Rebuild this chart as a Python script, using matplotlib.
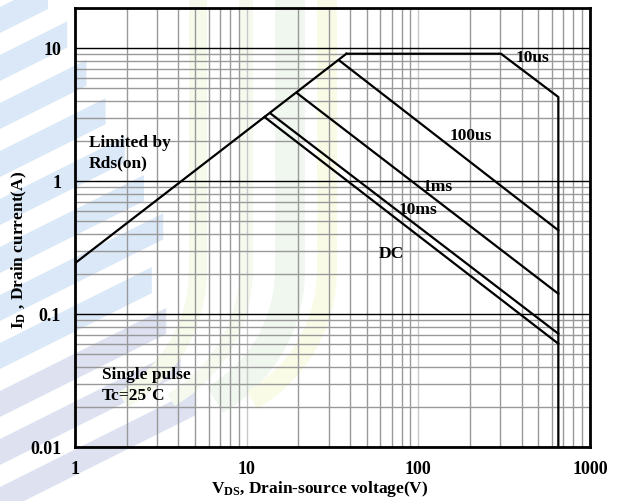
import numpy as np
import matplotlib.pyplot as plt
from matplotlib.ticker import LogLocator, NullFormatter, FixedLocator, FixedFormatter
from matplotlib.patches import Polygon

plt.rcParams['font.family'] = ['Liberation Serif', 'DejaVu Serif']
plt.rcParams['font.weight'] = 'bold'
plt.rcParams['axes.labelweight'] = 'bold'
plt.rcParams['mathtext.default'] = 'regular'

# ----------- safe operating area boundaries (V, A) ---------
rds_v = [1, 38.1]
rds_i = [0.241, 9.06]

us10_v = [38.1, 303, 654, 654]
us10_i = [9.06, 9.06, 4.28, 0.01]

us100_v = [34.6, 654]
us100_i = [8.07, 0.426]

ms1_v = [19.6, 654]
ms1_i = [4.59, 0.142]

ms10_v = [13.9, 654]
ms10_i = [3.19, 0.0711]

dc_v = [12.7, 654]
dc_i = [3.03, 0.0598]

# curve labels: text, V, I
curve_labels = ['10us', '100us', '1ms', '10ms', 'DC']
label_v = [463, 203, 129, 99, 70]
label_i = [8.4, 2.19, 0.895, 0.603, 0.282]

x_ticks = [1, 10, 100, 1000]
x_ticklabels = ['1', '10', '100', '1000']
y_ticks = [0.01, 0.1, 1, 10]
y_ticklabels = ['0.01', '0.1', '1', '10']

W, H = 622, 501
fig = plt.figure(figsize=(W / 100, H / 100), dpi=100)

# ----------- faint watermark behind the chart ---------
bg = fig.add_axes([0, 0, 1, 1], zorder=0)
bg.set_xlim(0, W)
bg.set_ylim(H, 0)
bg.axis('off')
for k in range(11):
    y0 = 20 + 48 * k
    xe = 40 + 0.4 * y0 if y0 < 330 else 120 + 0.3 * (y0 - 250)
    t = 26
    col = '#dbe8f8' if y0 < 380 else '#dde1f0'
    bg.add_patch(Polygon([(0, y0 - t / 2), (xe, y0 - t / 2 - 0.5 * xe),
                          (xe, y0 + t / 2 - 0.5 * xe), (0, y0 + t / 2)],
                         closed=True, color=col, lw=0))
for xc, w, col in [(198, 18, '#f6faea'), (246, 14, '#f6faee'),
                   (290, 30, '#eff7ee'), (327, 20, '#fafbe6')]:
    th = np.linspace(0, np.pi / 3, 30)
    r = 150
    xs = np.concatenate([[xc, xc], xc - r + r * np.cos(th)])
    ys = np.concatenate([[0, 270], 270 + r * np.sin(th)])
    bg.plot(xs, ys, color=col, lw=w * 0.72, solid_capstyle='butt')

# ----------- main chart ---------
ax = fig.add_axes([75 / W, 1 - 447 / H, (590 - 75) / W, (447 - 8) / H], zorder=1)
ax.set_facecolor('none')
ax.set_xscale('log')
ax.set_yscale('log')
ax.set_xlim(1, 1000)
ax.set_ylim(0.01, 20)

ax.xaxis.set_major_locator(FixedLocator(x_ticks))
ax.xaxis.set_major_formatter(FixedFormatter(x_ticklabels))
ax.yaxis.set_major_locator(FixedLocator(y_ticks))
ax.yaxis.set_major_formatter(FixedFormatter(y_ticklabels))
ax.xaxis.set_minor_locator(LogLocator(base=10, subs=np.arange(2, 10)))
ax.yaxis.set_minor_locator(LogLocator(base=10, subs=np.arange(2, 10)))
ax.xaxis.set_minor_formatter(NullFormatter())
ax.yaxis.set_minor_formatter(NullFormatter())

ax.grid(which='minor', axis='both', color='#999999', lw=1.0)
ax.grid(which='major', axis='x', color='#c8c8c8', lw=1.0)
ax.grid(which='major', axis='y', color='black', lw=1.0)
ax.tick_params(which='both', length=0, labelsize=13, pad=10)
for s in ax.spines.values():
    s.set_linewidth(2)

for v, i in [(rds_v, rds_i), (us10_v, us10_i), (us100_v, us100_i),
             (ms1_v, ms1_i), (ms10_v, ms10_i), (dc_v, dc_i)]:
    ax.plot(v, i, color='black', lw=1.6, zorder=3)

for t, v, i in zip(curve_labels, label_v, label_i):
    ax.text(v, i, t, fontsize=12.5, ha='center', va='center', zorder=4)

ax.text(1.2, 1.62, 'Limited by\nRds(on)', fontsize=12.5, ha='left', va='center',
        linespacing=1.35, zorder=4)
ax.text(1.44, 0.029, 'Single pulse\nTc=25˚C', fontsize=12.5, ha='left', va='center',
        linespacing=1.4, zorder=4)

ax.set_xlabel('V$_{DS}$, Drain-source voltage(V)', fontsize=12.5, fontweight='bold')
ax.set_ylabel('I$_{D}$ , Drain current(A)', fontsize=12.5, fontweight='bold')
ax.xaxis.set_label_coords(0.476, -0.072)
ax.yaxis.set_label_coords(-0.09, 0.449)

fig.savefig('out.png', dpi=100)
